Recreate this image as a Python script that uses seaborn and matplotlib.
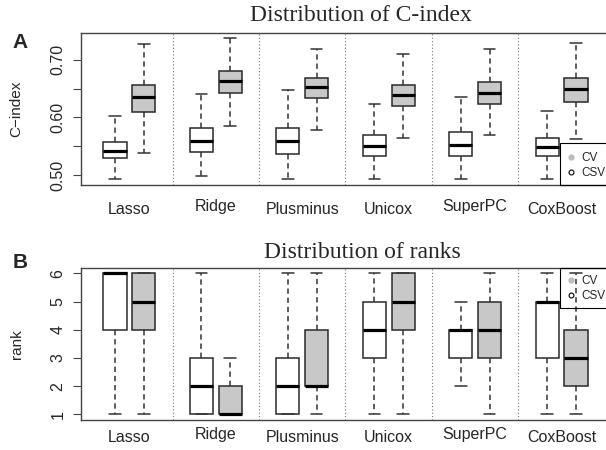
import numpy as np
import pandas as pd
import matplotlib
matplotlib.use("Agg")
import matplotlib.pyplot as plt
import matplotlib.transforms as mtransforms
from matplotlib.lines import Line2D
from matplotlib.patches import Rectangle
import seaborn as sns

# methods on the x axis
methods = ["Lasso", "Ridge", "Plusminus", "Unicox", "SuperPC", "CoxBoost"]

# five-number summaries (min, q1, median, q3, max)
# white boxes = CSV, grey boxes = CV
cindex_csv = [
    [0.494, 0.529, 0.542, 0.558, 0.603],
    [0.498, 0.541, 0.560, 0.581, 0.641],
    [0.494, 0.537, 0.559, 0.582, 0.647],
    [0.493, 0.533, 0.551, 0.570, 0.623],
    [0.493, 0.533, 0.553, 0.574, 0.635],
    [0.494, 0.533, 0.548, 0.565, 0.611],
]
cindex_cv = [
    [0.539, 0.609, 0.635, 0.656, 0.727],
    [0.586, 0.643, 0.663, 0.681, 0.737],
    [0.578, 0.633, 0.653, 0.669, 0.719],
    [0.564, 0.619, 0.638, 0.656, 0.710],
    [0.569, 0.623, 0.642, 0.662, 0.718],
    [0.562, 0.626, 0.649, 0.669, 0.729],
]
rank_csv = [
    [1, 4, 6, 6, 6],
    [1, 1, 2, 3, 6],
    [1, 1, 2, 3, 6],
    [1, 3, 4, 5, 6],
    [2, 3, 4, 4, 5],
    [1, 3, 5, 5, 6],
]
rank_cv = [
    [1, 4, 5, 6, 6],
    [1, 1, 1, 2, 3],
    [1, 2, 2, 4, 6],
    [1, 4, 5, 6, 6],
    [1, 3, 4, 5, 6],
    [1, 2, 3, 4, 6],
]

cindex_ticks = [0.50, 0.55, 0.60, 0.65, 0.70]
cindex_ticklabels = ["0.50", "", "0.60", "", "0.70"]
rank_ticks = [1, 2, 3, 4, 5, 6]
rank_ticklabels = ["1", "2", "3", "4", "5", "6"]

GREY = "#c8c8c8"
EDGE = "#2a2a2a"


def long_frame(csv, cv):
    """Long table: each box gets its five numbers, so quartiles come out exact."""
    rows = []
    for i, m in enumerate(methods):
        for v in csv[i]:
            rows.append({"pos": 3 * i + 1, "set": "CSV", "val": v})
        for v in cv[i]:
            rows.append({"pos": 3 * i + 2, "set": "CV", "val": v})
    return pd.DataFrame(rows)


sns.set_style("ticks")
plt.rcParams["font.family"] = ["Liberation Sans", "DejaVu Sans"]

W, H = 606, 450
fig = plt.figure(figsize=(W / 100, H / 100), dpi=100)

left, right = 80.7, 610.3


def px_axes(top, bottom):
    return fig.add_axes([left / W, 1 - bottom / H, (right - left) / W, (bottom - top) / H])


axA = px_axes(32.7, 185)
axB = px_axes(267.7, 420)


def draw_panel(ax, df, ylim, ticks, ticklabels, ylabel, label_off):
    for b in range(1, len(methods)):
        ax.axvline(3 * b, color="#777777", lw=0.8, ls=(0, (1, 2)), zorder=0)
    sns.boxplot(
        data=df, x="pos", y="val", hue="set", orient="x", native_scale=True,
        dodge=False, palette={"CSV": "white", "CV": GREY}, saturation=1,
        whis=(0, 100), width=0.8, showfliers=False, legend=False,
        linecolor=EDGE, linewidth=1.1, ax=ax,
        medianprops={"color": "black", "linewidth": 2.3},
        whiskerprops={"linestyle": (0, (3.5, 2.5)), "color": "#333333"},
        capprops={"color": "#333333"},
    )
    ax.set_xlim(-0.19, 18.19)
    ax.set_ylim(*ylim)
    ax.set_yticks(ticks)
    ax.set_yticklabels(ticklabels, rotation=90, va="center", fontsize=11.5)
    ax.tick_params(axis="y", length=6, width=0.8, color="#444444", pad=5)
    ax.set_xticks([])
    ax.set_xlabel("")
    ax.set_ylabel("")
    for s in ax.spines.values():
        s.set_color("#444444")
        s.set_linewidth(1.0)
    # method names under each pair of boxes
    trans = mtransforms.blended_transform_factory(ax.transData, ax.transAxes)
    for i, m in enumerate(methods):
        dy = 3 if any(c in m for c in "gpqy") else 0
        off = mtransforms.ScaledTranslation(0, -(label_off - dy) / 100, fig.dpi_scale_trans)
        ax.text(3 * i + 1.5, 0, m, transform=trans + off, ha="center", va="center",
                fontsize=11.5)
    ax.text(-0.121, 0.5, ylabel, transform=ax.transAxes, rotation=90,
            ha="center", va="center", fontsize=11)


draw_panel(axA, long_frame(cindex_csv, cindex_cv), (0.483, 0.7467),
           cindex_ticks, cindex_ticklabels, "C\u2212index", 24)
draw_panel(axB, long_frame(rank_csv, rank_cv), (0.8, 6.2),
           rank_ticks, rank_ticklabels, "rank", 17)

# titles and panel letters
fig.text(361 / W, 1 - 21 / H, "Distribution of C-index", ha="center", va="baseline",
         fontsize=17, family="Liberation Serif")
fig.text(362 / W, 1 - 258.3 / H, "Distribution of ranks", ha="center", va="baseline",
         fontsize=17, family="Liberation Serif")
fig.text(12 / W, 1 - 48.3 / H, "A", ha="left", va="baseline", fontsize=15, weight="bold")
fig.text(13 / W, 1 - 268.3 / H, "B", ha="left", va="baseline", fontsize=15, weight="bold")

# legends: R-style box running off the right edge
handles = [
    Line2D([], [], ls="none", marker="o", ms=3.5, mfc="#bdbdbd", mec="#bdbdbd"),
    Line2D([], [], ls="none", marker="o", ms=3.5, mfc="white", mec="black", mew=0.8),
]
for ax, box_top, box_bot, mid in [(axA, 143.3, 185, 165.5), (axB, 267.7, 308.3, 288.3)]:
    ax.legend(handles, ["CV", "CSV"], loc="center left",
              bbox_to_anchor=(567.4 / W, 1 - mid / H),
              bbox_transform=fig.transFigure, fontsize=8.5, frameon=False,
              handlelength=0.6, handletextpad=0.55, borderpad=0,
              labelspacing=0.25, borderaxespad=0)
    fig.patches.append(Rectangle((560.3 / W, 1 - box_bot / H), 60 / W, (box_bot - box_top) / H,
                                 transform=fig.transFigure, fill=False,
                                 edgecolor="black", linewidth=0.8, zorder=5))

fig.savefig("out.png", dpi=100)
